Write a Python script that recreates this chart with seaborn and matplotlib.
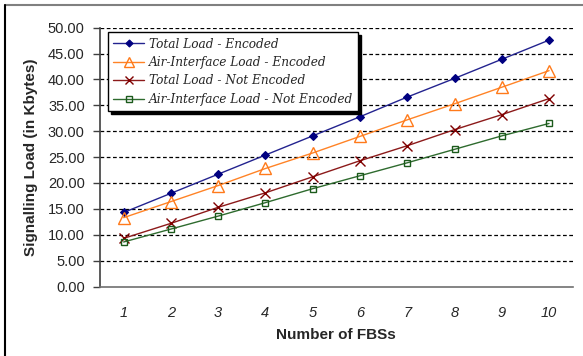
import matplotlib
matplotlib.use("Agg")
import matplotlib.pyplot as plt
from matplotlib.lines import Line2D
import seaborn as sns
import pandas as pd

# Number of femto base stations
fbs = [1, 2, 3, 4, 5, 6, 7, 8, 9, 10]

# Signalling load in Kbytes
total_encoded = [14.3, 18.0, 21.7, 25.4, 29.1, 32.8, 36.6, 40.2, 43.9, 47.6]
air_encoded = [13.3, 16.4, 19.5, 22.8, 25.8, 29.0, 32.2, 35.3, 38.5, 41.7]
total_not_encoded = [9.3, 12.2, 15.3, 18.1, 21.2, 24.3, 27.2, 30.3, 33.2, 36.3]
air_not_encoded = [8.6, 11.1, 13.6, 16.2, 18.9, 21.4, 23.9, 26.5, 29.1, 31.5]

series_names = [
    "Total Load - Encoded",
    "Air-Interface Load - Encoded",
    "Total Load - Not Encoded",
    "Air-Interface Load - Not Encoded",
]
series_values = [total_encoded, air_encoded, total_not_encoded, air_not_encoded]

y_ticks = [0, 5, 10, 15, 20, 25, 30, 35, 40, 45, 50]

df = pd.DataFrame({
    "fbs": fbs * len(series_names),
    "load": [v for vals in series_values for v in vals],
    "series": [n for n in series_names for _ in fbs],
})

styles = {
    "Total Load - Encoded": dict(color="#23238f", marker="D", ms=4.2,
                                 mfc="#000080", mec="#000080", mew=0.8),
    "Air-Interface Load - Encoded": dict(color="#ff8326", marker="^", ms=8,
                                         mfc="none", mec="#ff7a1a", mew=1.0),
    "Total Load - Not Encoded": dict(color="#8c1a1a", marker="x", ms=6.5,
                                     mfc="none", mec="#800000", mew=1.0),
    "Air-Interface Load - Not Encoded": dict(color="#2e6b2e", marker="s", ms=5,
                                             mfc="none", mec="#1b5a1b", mew=1.0),
}

sns.set_theme(style="white")
plt.rcParams["font.family"] = ["Liberation Sans", "DejaVu Sans"]

fig = plt.figure(figsize=(5.83, 3.56), dpi=100)
ax = fig.add_axes([100 / 583, 1 - 286.5 / 356, 472.7 / 583, 258.8 / 356])

for name in series_names:
    st = styles[name]
    sns.lineplot(
        data=df[df["series"] == name], x="fbs", y="load", ax=ax,
        color=st["color"], linewidth=1.0, marker=st["marker"],
        markersize=st["ms"], markerfacecolor=st["mfc"],
        markeredgecolor=st["mec"], markeredgewidth=st["mew"],
        label=name, legend=False,
    )

ax.set_xlim(0.5, 10.5)
ax.set_ylim(0, 50)

# horizontal dashed gridlines
ax.set_yticks(y_ticks)
ax.set_yticklabels([f"{t:.2f}" for t in y_ticks], fontsize=10.5, color="#262626")
for t in y_ticks[1:]:
    ax.axhline(t, color="black", lw=0.9, ls=(0, (3, 2)), zorder=0.5)

# category labels centred, tick marks between categories
ax.set_xticks(fbs)
ax.set_xticklabels([str(v) for v in fbs], fontsize=10.5, style="italic", color="#262626")
ax.set_xticks([i + 0.5 for i in range(0, 11)], minor=True)
ax.tick_params(axis="x", which="major", length=0, pad=14)
ax.tick_params(axis="x", which="minor", length=5, width=1, color="#606060", direction="out")
ax.tick_params(axis="y", which="major", length=5, width=1, color="#404040", direction="out", pad=6)
ax.tick_params(axis="both", bottom=True, left=True)

for s in ["top", "right"]:
    ax.spines[s].set_visible(False)
ax.spines["left"].set_color("#404040")
ax.spines["left"].set_linewidth(1.2)
ax.spines["bottom"].set_color("#707070")
ax.spines["bottom"].set_linewidth(1.2)

ax.set_xlabel("Number of FBSs", fontsize=11, fontweight="bold", labelpad=6)
ax.set_ylabel("Signalling Load (in Kbytes)", fontsize=11, fontweight="bold", labelpad=7)

handles = [
    Line2D([], [], color=styles[n]["color"], lw=1.0, marker=styles[n]["marker"],
           ms=styles[n]["ms"] * 0.85, mfc=styles[n]["mfc"], mec=styles[n]["mec"],
           mew=styles[n]["mew"])
    for n in series_names
]
leg = ax.legend(
    handles, series_names, loc="upper left", bbox_to_anchor=(0.017, 0.983),
    borderaxespad=0, frameon=True, fancybox=False,
    shadow={"color": "black", "alpha": 1.0},
    prop={"family": "DejaVu Serif", "style": "italic", "size": 8.7},
    handlelength=2.5, handletextpad=0.4, labelspacing=0.45,
    borderpad=0.45,
)
leg.get_frame().set_edgecolor("black")
leg.get_frame().set_linewidth(1.0)
leg.get_frame().set_alpha(1.0)

# outer chart border (top and left edges visible)
fig.add_artist(Line2D([5 / 583, 1.0], [1 - 5 / 356, 1 - 5 / 356],
                      transform=fig.transFigure, color="#808080", lw=1.5))
fig.add_artist(Line2D([5 / 583, 5 / 583], [0.0, 1 - 5 / 356],
                      transform=fig.transFigure, color="black", lw=1.5))

fig.savefig("out.png", dpi=100)
